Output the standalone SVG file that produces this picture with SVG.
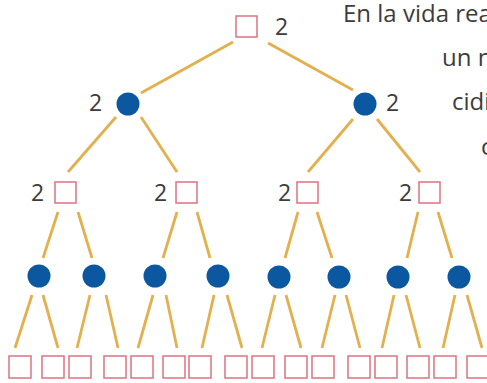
<svg xmlns="http://www.w3.org/2000/svg" width="487" height="383" viewBox="0 0 487 383">
<style>
.bx{fill:#fff;stroke:#dc7380;stroke-width:1.5}
.ci{fill:#0b58a0}
.ln{stroke:#e2b04e;stroke-width:2.8;stroke-linecap:butt;fill:none}
.t{font-family:"Open Sans","Noto Sans",sans-serif;font-size:24px;fill:#3c3c3c}
.n{font-family:"Open Sans","Noto Sans",sans-serif;font-size:23px;fill:#3c3c3c}
</style>
<rect width="487" height="383" fill="#fff"/>
<g id="connectors">
<line class="ln" x1="233" y1="42" x2="141" y2="93"/>
<line class="ln" x1="268" y1="43" x2="353" y2="90"/>
<line class="ln" x1="116" y1="117" x2="68" y2="172"/>
<line class="ln" x1="141" y1="117" x2="177" y2="172"/>
<line class="ln" x1="353" y1="119" x2="308" y2="172"/>
<line class="ln" x1="377" y1="119" x2="420" y2="172"/>
<line class="ln" x1="58" y1="212" x2="43" y2="258"/>
<line class="ln" x1="78" y1="212" x2="92" y2="258"/>
<line class="ln" x1="177" y1="212" x2="163" y2="258"/>
<line class="ln" x1="197" y1="212" x2="210" y2="258"/>
<line class="ln" x1="298" y1="212" x2="285" y2="258"/>
<line class="ln" x1="317" y1="212" x2="332" y2="258"/>
<line class="ln" x1="418" y1="212" x2="407" y2="258"/>
<line class="ln" x1="438" y1="212" x2="452" y2="258"/>
<line class="ln" x1="32" y1="295" x2="15" y2="348"/>
<line class="ln" x1="43" y1="295" x2="58" y2="348"/>
<line class="ln" x1="90" y1="295" x2="77" y2="348"/>
<line class="ln" x1="106" y1="295" x2="118" y2="348"/>
<line class="ln" x1="153" y1="295" x2="138" y2="348"/>
<line class="ln" x1="166" y1="295" x2="177" y2="348"/>
<line class="ln" x1="214" y1="295" x2="202" y2="348"/>
<line class="ln" x1="227" y1="295" x2="242" y2="348"/>
<line class="ln" x1="275" y1="295" x2="262" y2="348"/>
<line class="ln" x1="286" y1="295" x2="301" y2="348"/>
<line class="ln" x1="335" y1="295" x2="322" y2="348"/>
<line class="ln" x1="346" y1="295" x2="360" y2="348"/>
<line class="ln" x1="394" y1="295" x2="382" y2="348"/>
<line class="ln" x1="406" y1="295" x2="420" y2="348"/>
<line class="ln" x1="455" y1="295" x2="443" y2="348"/>
<line class="ln" x1="467" y1="295" x2="482" y2="348"/>
</g>
<g id="root"><rect class="bx" x="236" y="16" width="21" height="21"/><text class="n" x="275" y="35">2</text></g>
<g id="c1a"><circle class="ci" cx="128" cy="104" r="11.5"/><text class="n" x="89" y="111">2</text></g>
<g id="c1b"><circle class="ci" cx="365" cy="104" r="11.5"/><text class="n" x="386" y="111">2</text></g>
<g id="b2a"><rect class="bx" x="55" y="182" width="21" height="21"/><text class="n" x="31" y="201">2</text></g>
<g id="b2b"><rect class="bx" x="176" y="182" width="21" height="21"/><text class="n" x="154" y="201">2</text></g>
<g id="b2c"><rect class="bx" x="297" y="182" width="21" height="21"/><text class="n" x="278" y="201">2</text></g>
<g id="b2d"><rect class="bx" x="419" y="182" width="21" height="21"/><text class="n" x="399" y="201">2</text></g>
<g id="c3a"><circle class="ci" cx="39" cy="276" r="11.5"/></g>
<g id="c3b"><circle class="ci" cx="94" cy="276" r="11.5"/></g>
<g id="c3c"><circle class="ci" cx="155" cy="276" r="11.5"/></g>
<g id="c3d"><circle class="ci" cx="218" cy="276" r="11.5"/></g>
<g id="c3e"><circle class="ci" cx="279" cy="277" r="11.5"/></g>
<g id="c3f"><circle class="ci" cx="339" cy="277" r="11.5"/></g>
<g id="c3g"><circle class="ci" cx="398" cy="277" r="11.5"/></g>
<g id="c3h"><circle class="ci" cx="459" cy="277" r="11.5"/></g>
<g id="l1"><rect class="bx" x="9" y="356" width="22" height="22"/></g>
<g id="l2"><rect class="bx" x="42" y="356" width="22" height="22"/></g>
<g id="l3"><rect class="bx" x="69" y="356" width="22" height="22"/></g>
<g id="l4"><rect class="bx" x="104" y="356" width="22" height="22"/></g>
<g id="l5"><rect class="bx" x="131" y="356" width="22" height="22"/></g>
<g id="l6"><rect class="bx" x="163" y="356" width="22" height="22"/></g>
<g id="l7"><rect class="bx" x="189" y="356" width="22" height="22"/></g>
<g id="l8"><rect class="bx" x="225" y="356" width="22" height="22"/></g>
<g id="l9"><rect class="bx" x="252" y="356" width="22" height="22"/></g>
<g id="l10"><rect class="bx" x="285" y="356" width="22" height="22"/></g>
<g id="l11"><rect class="bx" x="312" y="356" width="22" height="22"/></g>
<g id="l12"><rect class="bx" x="348" y="356" width="22" height="22"/></g>
<g id="l13"><rect class="bx" x="375" y="356" width="22" height="22"/></g>
<g id="l14"><rect class="bx" x="407" y="356" width="22" height="22"/></g>
<g id="l15"><rect class="bx" x="434" y="356" width="22" height="22"/></g>
<g id="l16"><rect class="bx" x="467" y="356" width="22" height="22"/></g>
<g id="prose">
<text class="t" x="343" y="22">En la vida rea</text>
<text class="t" x="442" y="66">un n</text>
<text class="t" x="452" y="110">cidi</text>
<text class="t" x="481" y="155">c</text>
</g>
</svg>
